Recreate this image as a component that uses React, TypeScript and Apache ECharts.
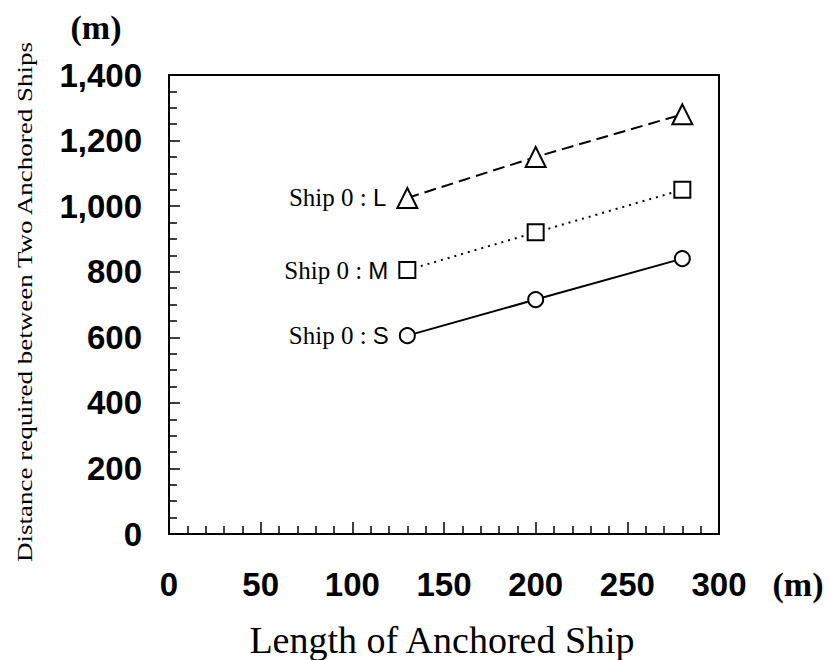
import React, { useEffect, useRef } from 'react';
import * as echarts from 'echarts';

const shipLengths = [130, 200, 280];
const shipL = [1025, 1150, 1280];
const shipM = [805, 920, 1050];
const shipS = [605, 715, 840];
const seriesNames = ['L', 'M', 'S'];
const yTitle = 'Distance required between Two Anchored Ships';
const xTitle = 'Length of Anchored Ship';
const unit = '(m)';

const serif = '"Liberation Serif", "Times New Roman", serif';
const sans = '"Liberation Sans", Arial, sans-serif';

function makeSeries(name: string, values: number[], symbol: string, size: number, lineType: any) {
  return {
    type: 'line',
    name,
    symbol,
    symbolSize: size,
    showAllSymbol: true,
    itemStyle: { color: '#fff', borderColor: '#000', borderWidth: 2 },
    lineStyle: { color: '#000', width: 2, type: lineType },
    data: shipLengths.map((x, i) =>
      i === 0
        ? {
            value: [x, values[i]],
            label: {
              show: true,
              position: 'left',
              distance: 10,
              formatter: `{a|Ship 0 : }{b|${name}}`,
              rich: {
                a: { fontFamily: serif, fontSize: 25, color: '#000' },
                b: { fontFamily: sans, fontSize: 24, color: '#000' },
              },
            },
          }
        : [x, values[i]]
    ),
  };
}

export default function App() {
  const ref = useRef<HTMLDivElement>(null);
  useEffect(() => {
    document.body.style.margin = '0';
    const chart = echarts.init(ref.current!, undefined, { renderer: 'svg' });
    chart.setOption({
      animation: false,
      backgroundColor: '#fff',
      grid: { left: 169, top: 75, width: 550, height: 459, show: true, borderColor: '#000', borderWidth: 2, backgroundColor: 'transparent' },
      xAxis: {
        type: 'value',
        min: 0,
        max: 300,
        interval: 50,
        axisLine: { show: true, lineStyle: { color: '#000', width: 2 } },
        axisTick: { show: true, inside: true, length: 12, lineStyle: { color: '#000', width: 1.5 } },
        minorTick: { show: true, splitNumber: 5, length: 8, lineStyle: { color: '#000', width: 1.5 } },
        splitLine: { show: false },
        axisLabel: { margin: 34, fontFamily: sans, fontWeight: 'bold', fontSize: 33, color: '#000' },
      },
      yAxis: {
        type: 'value',
        min: 0,
        max: 1400,
        interval: 200,
        axisLine: { show: true, lineStyle: { color: '#000', width: 2 } },
        axisTick: { show: true, inside: true, length: 11, lineStyle: { color: '#000', width: 1.5 } },
        minorTick: { show: true, splitNumber: 4, length: 8, lineStyle: { color: '#000', width: 1.5 } },
        splitLine: { show: false },
        axisLabel: {
          margin: 27,
          fontFamily: sans,
          fontWeight: 'bold',
          fontSize: 33,
          color: '#000',
          formatter: (v: number) => v.toLocaleString('en-US'),
        },
      },
      graphic: [
        {
          type: 'text',
          x: 25,
          y: 302,
          rotation: Math.PI / 2,
          scaleX: 1.35,
          style: { text: yTitle, font: `20px ${serif}`, fill: '#000', textAlign: 'center', textVerticalAlign: 'middle' },
        },
        {
          type: 'text',
          x: 442,
          y: 640,
          style: { text: xTitle, font: `38px ${serif}`, fill: '#000', textAlign: 'center', textVerticalAlign: 'middle' },
        },
        {
          type: 'text',
          x: 96,
          y: 27,
          style: { text: unit, font: `bold 34px ${serif}`, fill: '#000', textAlign: 'center', textVerticalAlign: 'middle' },
        },
        {
          type: 'text',
          x: 798,
          y: 584,
          style: { text: unit, font: `bold 34px ${serif}`, fill: '#000', textAlign: 'center', textVerticalAlign: 'middle' },
        },
      ],
      series: [
        makeSeries(seriesNames[0], shipL, 'triangle', 20, [12, 6]),
        makeSeries(seriesNames[1], shipM, 'rect', 16, [2, 5]),
        makeSeries(seriesNames[2], shipS, 'circle', 15, 'solid'),
      ],
    });
    return () => chart.dispose();
  }, []);
  return <div ref={ref} style={{ width: 829, height: 660 }} />;
}
